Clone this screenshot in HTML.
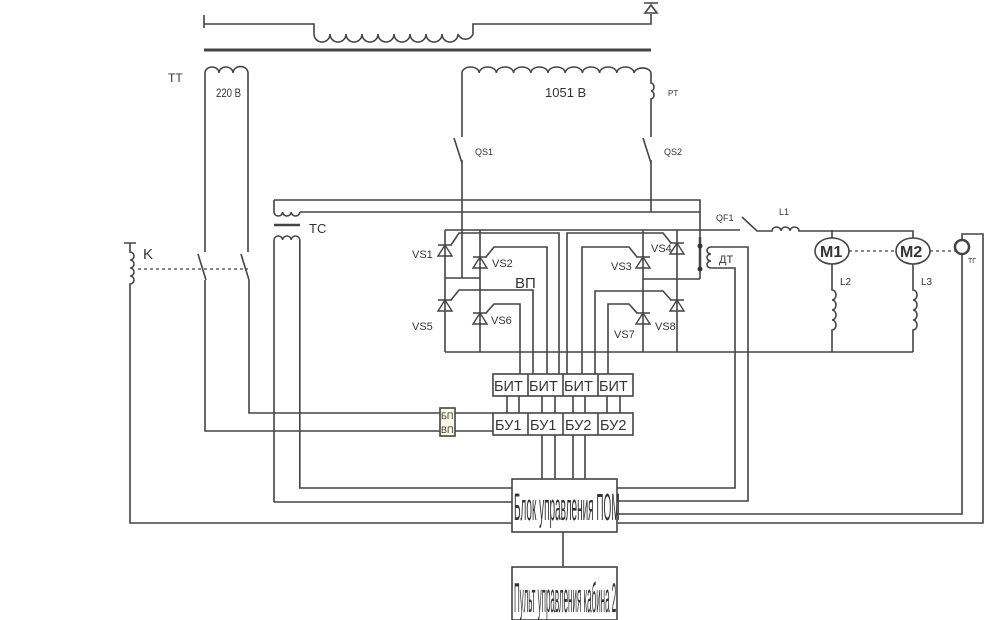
<!DOCTYPE html>
<html><head><meta charset="utf-8"><style>
html,body{margin:0;padding:0;background:#fff}
svg{display:block}
text{font-family:"Liberation Sans",sans-serif;fill:#333}
</style></head><body>
<svg width="990" height="620" viewBox="0 0 990 620" xmlns="http://www.w3.org/2000/svg">
<g fill="none" stroke="#444" stroke-width="1.6">
<path d="M204 15V28M204 24H314V34 a8 8 0 0 0 16 0 a8 8 0 0 0 16 0 a8 8 0 0 0 16 0 a8 8 0 0 0 16 0 a8 8 0 0 0 16 0 a8 8 0 0 0 16 0 a8 8 0 0 0 16 0 a8 8 0 0 0 16 0 a8 8 0 0 0 16 0 a8 8 0 0 0 15 0 V24H651V14"/>
<path d="M644 3H658M651 5L645 13H657Z"/>
<line x1="204" y1="50" x2="651" y2="50" stroke-width="3"/>
<path d="M205 252V73 a7 6 0 0 1 14 0 a7 6 0 0 1 14 0 a7 6 0 0 1 15 0V252"/>
<path d="M198 254L206 280M241 254L249 280"/>
<path d="M205 280V431H440M249 280V413H440"/>
<rect x="440" y="408" width="15" height="28" fill="#fdfbe8"/>
<path d="M455 413H493M455 431H493"/>
<path d="M124 243H136M130 243V252 a4 4 0 0 1 0 8 a4 4 0 0 1 0 8 a4 4 0 0 1 0 8 a4 4 0 0 1 0 8V523H512"/>
<path d="M138 269H248" stroke-dasharray="3 3" stroke-width="1.2"/>
<path d="M462 137V73 a8.6 6 0 0 1 17.2 0 a8.6 6 0 0 1 17.2 0 a8.6 6 0 0 1 17.2 0 a8.6 6 0 0 1 17.2 0 a8.6 6 0 0 1 17.2 0 a8.6 6 0 0 1 17.2 0 a8.6 6 0 0 1 17.2 0 a8.6 6 0 0 1 17.2 0 a8.6 6 0 0 1 17.2 0 a8.6 6 0 0 1 17.2 0 a8.6 6 0 0 1 17 0V83 a3 4 0 0 1 0 8 a3 4 0 0 1 0 8V137"/>
<path d="M454 138L462 163M462 160V278M643 138L651 163M651 160V212"/>
<path d="M274 200H700V279M300 212H700M274 200V212 a4.3 4 0 0 0 8.6 0 a4.3 4 0 0 0 8.6 0 a4.3 4 0 0 0 8.6 0"/>
<line x1="274" y1="225" x2="300" y2="225" stroke-width="2.5"/>
<path d="M274 502V240 a4.3 4 0 0 1 8.6 0 a4.3 4 0 0 1 8.6 0 a4.3 4 0 0 1 8.6 0V488H512M274 502H512"/>
<path d="M445 230H740M445 230V352M480 230V352M445 278H480M643 230V352M677 230V352M643 279H700M445 352H913"/>
<path d="M700 237V269" stroke-width="2.5"/>
<path d="M451 245L459 233H559V374M486 257L494 247H547V374M451 300L459 290H533V374M486 313L494 304H520V374"/>
<path d="M671 243L663 233H567V374M637 257L629 247H582V374M671 300L663 291H595V374M637 313L629 304H608V374"/>
<path d="M711 247H748V501H617M711 247 a4 3.5 0 0 0 0 7 a4 3.5 0 0 0 0 7 a4 3.5 0 0 0 0 7H735V488H617"/>
<path d="M742 217L757 231H772 a4.5 4 0 0 1 9 0 a4.5 4 0 0 1 9 0 a4.5 4 0 0 1 9 0H913V238M832 230V238"/>
<ellipse cx="832" cy="251" rx="17" ry="13"/>
<ellipse cx="913" cy="251" rx="17" ry="13"/>
<path d="M832 264V290 a4 5 0 0 1 0 10 a4 5 0 0 1 0 10 a4 5 0 0 1 0 10 a4 5 0 0 1 0 10V352M913 264V290 a4 5 0 0 1 0 10 a4 5 0 0 1 0 10 a4 5 0 0 1 0 10 a4 5 0 0 1 0 10V352"/>
<path d="M849 251H896M930 251H955" stroke-dasharray="3 3" stroke-width="1.2"/>
<circle cx="962" cy="247" r="7" stroke-width="2.5"/>
<path d="M962 254V514H617M962 240V234H983V523H617"/>
<rect x="493" y="374" width="140" height="22"/>
<path d="M528 374V396M563 374V396M598 374V396"/>
<rect x="493" y="413" width="140" height="22"/>
<path d="M528 413V435M563 413V435M598 413V435"/>
<path d="M507 396V413M519 396V413M542 396V413M555 396V413M573 396V413M585 396V413M607 396V413M620 396V413"/>
<path d="M542 435V479M555 435V479M573 435V479M585 435V479"/>
<rect x="512" y="479" width="105" height="53"/>
<path d="M563 532V567"/>
<rect x="512" y="567" width="105" height="53"/>
</g>
<g stroke="#444" stroke-width="1.4" fill="none">
<path d="M438 245H452M445 245L438 256H452Z"/>
<path d="M473 257H487M480 257L473 268H487Z"/>
<path d="M438 300H452M445 300L438 311H452Z"/>
<path d="M473 313H487M480 313L473 324H487Z"/>
<path d="M670 243H684M677 243L670 254H684Z"/>
<path d="M636 257H650M643 257L636 268H650Z"/>
<path d="M670 300H684M677 300L670 311H684Z"/>
<path d="M636 313H650M643 313L636 324H650Z"/>
</g>
<circle cx="700" cy="246" r="2.5" fill="#333"/><circle cx="700" cy="269" r="2.5" fill="#333"/>
<g font-size="13">
<text x="168" y="82" font-size="12">TT</text>
<text x="216" y="97" font-size="12" transform="translate(216 0) scale(0.8 1) translate(-216 0)">220 В</text>
<text x="143" y="259" font-size="15">K</text>
<text x="309" y="233" font-size="13">TC</text>
<text x="545" y="97" font-size="13">1051 В</text>
<text x="668" y="96" font-size="8">PT</text>
<text x="475" y="155" font-size="9">QS1</text>
<text x="664" y="155" font-size="9">QS2</text>
<text x="412" y="258" font-size="11">VS1</text>
<text x="492" y="267" font-size="11">VS2</text>
<text x="515" y="288" font-size="15">ВП</text>
<text x="412" y="330" font-size="11">VS5</text>
<text x="491" y="324" font-size="11">VS6</text>
<text x="611" y="270" font-size="11">VS3</text>
<text x="651" y="252" font-size="11">VS4</text>
<text x="614" y="338" font-size="11">VS7</text>
<text x="655" y="330" font-size="11">VS8</text>
<text x="716" y="221" font-size="9">QF1</text>
<text x="779" y="215" font-size="9">L1</text>
<text x="719" y="263" font-size="11">ДТ</text>
<text x="820" y="257" font-size="16" font-weight="bold">M1</text>
<text x="900" y="257" font-size="16" font-weight="bold">M2</text>
<text x="840" y="285" font-size="10">L2</text>
<text x="921" y="285" font-size="10">L3</text>
<text x="968" y="263" font-size="7">ТГ</text>
<text x="441" y="419" font-size="9">БП</text>
<text x="441" y="433" font-size="9">ВП</text>
<g font-size="14.5">
<text x="494" y="391">БИТ</text><text x="529" y="391">БИТ</text><text x="564" y="391">БИТ</text><text x="599" y="391">БИТ</text>
<text x="495" y="430">БУ1</text><text x="530" y="430">БУ1</text><text x="565" y="430">БУ2</text><text x="600" y="430">БУ2</text>
</g>
<text x="0" y="0" font-size="20" transform="translate(514 520) scale(0.5 1.9)">Блок управления ПОМ</text>
<text x="0" y="0" font-size="20" transform="translate(514 612) scale(0.4 2.1)">Пульт управления кабина 2</text>
</g>
</svg>
</body></html>
